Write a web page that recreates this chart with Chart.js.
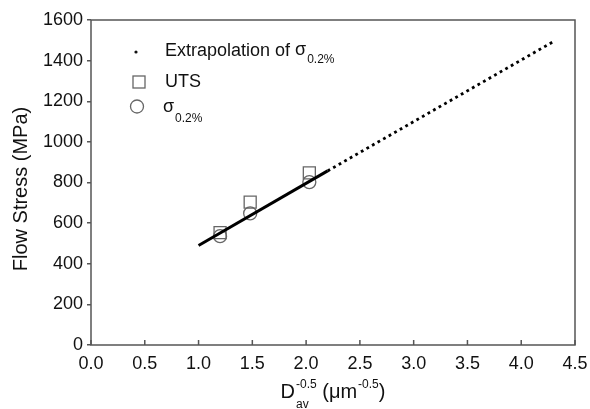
<!DOCTYPE html>
<html>
<head>
<meta charset="utf-8">
<script src="https://cdn.jsdelivr.net/npm/chart.js@4/dist/chart.umd.min.js"></script>
<style>
  html, body { margin: 0; padding: 0; background: #fff; }
  #wrap { width: 590px; height: 409px; }
</style>
</head>
<body>
<div id="wrap"><canvas id="stress"></canvas></div>
<script>
// values
var grainX = [1.2, 1.48, 2.03];          // D_av^-0.5 (um^-0.5)
var utsY = [553, 703, 847];              // UTS (MPa)
var yieldY = [536, 648, 802];            // sigma 0.2% (MPa)
var fitX = [1.0, 2.2];                   // fitted Hall-Petch line
var fitY = [490, 857];
var extrapX = [2.2, 4.3];                // extrapolation of sigma 0.2%
var extrapY = [857, 1494];
var xTicks = [0, 0.5, 1, 1.5, 2, 2.5, 3, 3.5, 4, 4.5];

var FONT = '"Liberation Sans", Arial, sans-serif';
var AXIS = '#555';
var INK = '#111';

function pts(xs, ys) {
    return xs.map(function (x, i) { return { x: x, y: ys[i] }; });
}

// frame, inward x ticks, legend and axis titles
var decorations = {
    id: 'decorations',
    afterDraw: function (chart) {
        var ctx = chart.ctx;
        var a = chart.chartArea;
        var xs = chart.scales.x;
        ctx.save();

        ctx.strokeStyle = AXIS;
        ctx.lineWidth = 1.5;
        ctx.strokeRect(a.left, a.top, a.right - a.left, a.bottom - a.top);

        // x ticks point into the plot
        ctx.beginPath();
        xTicks.forEach(function (v) {
            var px = xs.getPixelForValue(v);
            ctx.moveTo(px, a.bottom);
            ctx.lineTo(px, a.bottom - 5);
        });
        ctx.stroke();

        // legend
        var lx = 137;
        ctx.fillStyle = INK;
        ctx.beginPath();
        ctx.arc(lx - 1, 52, 1.6, 0, Math.PI * 2);
        ctx.fill();
        ctx.strokeStyle = '#666';
        ctx.lineWidth = 1.3;
        ctx.strokeRect(lx + 2 - 6, 82 - 6, 12, 12);
        ctx.beginPath();
        ctx.arc(lx, 106.5, 6.5, 0, Math.PI * 2);
        ctx.stroke();

        ctx.fillStyle = INK;
        ctx.textBaseline = 'alphabetic';
        ctx.textAlign = 'left';
        ctx.font = '18px ' + FONT;
        var t1 = 'Extrapolation of ';
        ctx.fillText(t1, 165, 56);
        var sx = 165 + ctx.measureText(t1).width;
        ctx.fillText('\u03c3', sx, 55);
        var sw = ctx.measureText('\u03c3').width;
        ctx.fillText('UTS', 165, 87);
        ctx.fillText('\u03c3', 163, 112);
        ctx.font = '12px ' + FONT;
        ctx.fillText('0.2%', sx + sw + 1, 63);
        ctx.fillText('0.2%', 163 + sw + 1, 122);

        // x axis title: D_av^-0.5 (um^-0.5)
        var big = '20px ' + FONT, small = '12px ' + FONT;
        var parts = [
            { t: 'D', f: big, dy: 0 },
            { t: '-0.5', f: small, dy: -10, sub: 'av', sdy: 10 },
            { t: ' (\u03bcm', f: big, dy: 0 },
            { t: '-0.5', f: small, dy: -10 },
            { t: ')', f: big, dy: 0 }
        ];
        var total = 0;
        parts.forEach(function (p) {
            ctx.font = p.f;
            p.w = ctx.measureText(p.t).width;
            total += p.w + (p.dy ? 1 : 0);
        });
        var cx = (a.left + a.right) / 2 - total / 2;
        var base = 398;
        parts.forEach(function (p) {
            ctx.font = p.f;
            var x0 = cx + (p.dy ? 1 : 0);
            ctx.fillText(p.t, x0, base + p.dy);
            if (p.sub) ctx.fillText(p.sub, x0, base + p.sdy);
            cx = x0 + p.w;
        });

        // y axis title
        ctx.translate(27, 189);
        ctx.rotate(-Math.PI / 2);
        ctx.textAlign = 'center';
        ctx.font = '20px ' + FONT;
        ctx.fillText('Flow Stress (MPa)', 0, 0);

        ctx.restore();
    }
};

new Chart(document.getElementById('stress'), {
    type: 'scatter',
    data: {
        datasets: [
            {
                label: 'fit',
                data: pts(fitX, fitY),
                showLine: true,
                borderColor: '#000',
                borderWidth: 3,
                pointRadius: 0,
                order: 0
            },
            {
                label: 'Extrapolation of \u03c30.2%',
                data: pts(extrapX, extrapY),
                showLine: true,
                borderColor: '#000',
                borderWidth: 2.8,
                borderDash: [2.8, 3.6],
                pointRadius: 0,
                order: 0
            },
            {
                label: 'UTS',
                data: pts(grainX, utsY),
                pointStyle: 'rect',
                pointRadius: 8.5,
                borderColor: '#666',
                borderWidth: 1.3,
                backgroundColor: 'rgba(0,0,0,0)',
                order: 2
            },
            {
                label: '\u03c30.2%',
                data: pts(grainX, yieldY),
                pointStyle: 'circle',
                pointRadius: 6.5,
                borderColor: '#666',
                borderWidth: 1.3,
                backgroundColor: 'rgba(0,0,0,0)',
                order: 1
            }
        ]
    },
    options: {
        responsive: true,
        maintainAspectRatio: false,
        animation: false,
        events: [],
        layout: { padding: { left: 0, right: 15, top: 20, bottom: 0 } },
        plugins: {
            legend: { display: false },
            tooltip: { enabled: false }
        },
        scales: {
            x: {
                type: 'linear',
                min: 0,
                max: 4.5,
                afterBuildTicks: function (s) {
                    s.ticks = xTicks.map(function (v) { return { value: v }; });
                },
                afterFit: function (s) {
                    s.height = 64;
                    s.paddingLeft = 0;
                    s.paddingRight = 0;
                },
                grid: { display: false, drawTicks: false },
                border: { display: false },
                ticks: {
                    padding: 8,
                    color: INK,
                    font: { family: FONT, size: 18 },
                    callback: function (v) { return Number(v).toFixed(1); }
                }
            },
            y: {
                min: 0,
                max: 1600,
                afterFit: function (s) {
                    s.width = 91;
                    s.paddingTop = 0;
                    s.paddingBottom = 0;
                },
                grid: {
                    drawOnChartArea: false,
                    drawTicks: true,
                    tickLength: 4,
                    color: AXIS,
                    lineWidth: 1.5
                },
                border: { display: false },
                ticks: {
                    stepSize: 200,
                    padding: 4,
                    color: INK,
                    font: { family: FONT, size: 18 },
                    callback: function (v) { return String(v); }
                }
            }
        }
    },
    plugins: [decorations]
});
</script>
</body>
</html>
